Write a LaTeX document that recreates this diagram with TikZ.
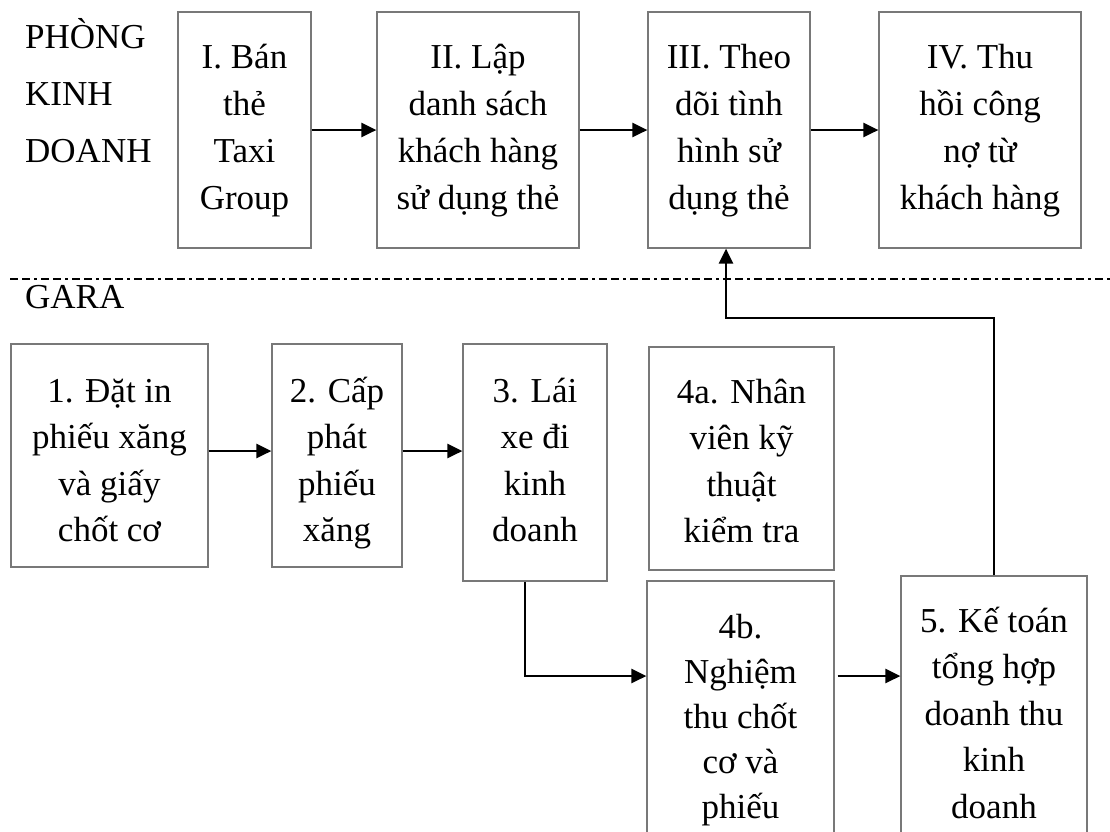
\documentclass[tikz,border=0pt]{standalone}
\usepackage{fontspec}
\setmainfont{Liberation Serif}
\usetikzlibrary{arrows.meta}
\definecolor{boxgray}{RGB}{120,120,120}

% #1 name, #2 centre x, #3 first baseline, #4 width,
% #5 text height, #6 text depth, #7 line skip, #8 text
\newcommand\procstep[8]{%
  \node[procbox, minimum width=#4pt, text height=#5pt, text depth=#6pt,
        font=\fontsize{35}{#7}\selectfont] (#1) at (#2,#3)
       {\parbox[t]{#4pt}{\centering #8}};}

\begin{document}
\begin{tikzpicture}[x=1pt,y=-1pt,
  procbox/.style={rectangle, draw=boxgray, line width=1.2pt, inner sep=0pt, anchor=base},
  flow/.style={draw=black, line width=2.5pt, -{Triangle[length=15pt,width=14pt]}},
  lanelabel/.style={inner sep=0pt, anchor=base west}]
\clip (0,0) rectangle (1110,831);
\fill[white] (0,0) rectangle (1110,831);

% lane labels
\node[lanelabel, font=\fontsize{35}{57}\selectfont] (lkd) at (25,48)
  {\parbox[t]{160pt}{\raggedright PHÒNG\\KINH\\DOANH}};
\node[lanelabel, font=\fontsize{35}{42}\selectfont] (lgara) at (25,308) {GARA};

% lane separator
\draw[line width=2.5pt, dash pattern=on 8pt off 4pt on 8pt off 4pt on 3pt off 4pt]
  (10,279) coordinate (sepL) -- (1110,279) coordinate (sepR);

% business department steps
\procstep{tI}{244.5}{68}{133}{56}{180}{47}{I. Bán\\thẻ\\Taxi\\Group}
\procstep{tII}{478}{68}{202}{56}{180}{47}{II. Lập\\danh sách\\khách hàng\\sử dụng thẻ}
\procstep{tIII}{729}{68}{162}{56}{180}{47}{III. Theo\\dõi tình\\hình sử\\dụng thẻ}
\procstep{tIV}{980}{68}{202}{56}{180}{47}{IV. Thu\\hồi công\\nợ từ\\khách hàng}

% garage steps
\procstep{g1}{109.5}{402}{197}{58}{165}{46.5}{1. Đặt in\\phiếu xăng\\và giấy\\chốt cơ}
\procstep{g2}{337}{402}{130}{58}{165}{46.5}{2. Cấp\\phát\\phiếu\\xăng}
\procstep{g3}{535}{402}{144}{58}{179}{46.5}{3. Lái\\xe đi\\kinh\\doanh}
\procstep{g4a}{741.5}{403}{185}{56}{167}{46.5}{4a. Nhân\\viên kỹ\\thuật\\kiểm tra}
\procstep{g4b}{740.5}{638}{187}{57}{262}{45}{4b.\\Nghiệm\\thu chốt\\cơ và\\phiếu}
\procstep{g5}{994}{632}{186}{56}{268}{46.5}{5. Kế toán\\tổng hợp\\doanh thu\\kinh\\doanh}

% flow along the top lane
\draw[flow] (tI.east) -- (tII.west);
\draw[flow] (tII.east) -- (tIII.west);
\draw[flow] (tIII.east) -- (tIV.west);

% flow along the garage lane
\coordinate (row) at (0,451);
\draw[flow] (g1.east |- row) -- (g2.west |- row);
\draw[flow] (g2.east |- row) -- (g3.west |- row);
\coordinate (bend) at (525,676);
\draw[flow] (g3.south -| bend) -- (bend) -- (bend -| g4b.west);
\draw[flow, shorten <=3pt] (g4b.east |- bend) -- (g5.west |- bend);

% feedback to the business department
\coordinate (fb) at (0,318);
\draw[flow] (g5.north) -- (g5.north |- fb) -- ([xshift=-3pt]tIII.south |- fb) -- ([xshift=-3pt]tIII.south);
\end{tikzpicture}
\end{document}
